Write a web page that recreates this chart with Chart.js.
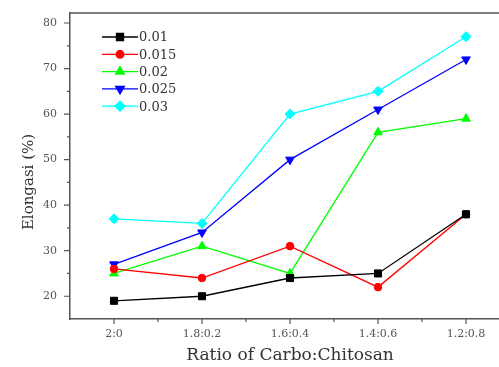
<!DOCTYPE html>
<html>
<head>
<meta charset="utf-8">
<script src="https://cdn.jsdelivr.net/npm/chart.js@4/dist/chart.umd.min.js"></script>
<style>
  html, body { margin: 0; padding: 0; background: #fff; overflow: hidden; }
  #wrap { width: 520px; height: 367px; }
</style>
</head>
<body>
<div id="wrap"><canvas id="elongChart"></canvas></div>
<script>
// data
const ratios = ['2:0', '1.8:0.2', '1.6:0.4', '1.4:0.6', '1.2:0.8'];
const seriesNames = ['0.01', '0.015', '0.02', '0.025', '0.03'];
const conc001 = [19, 20, 24, 25, 38];
const conc0015 = [26, 24, 31, 22, 38];
const conc002 = [25, 31, 25, 56, 59];
const conc0025 = [27, 34, 50, 61, 72];
const conc003 = [37, 36, 60, 65, 77];
const yTickValues = [20, 30, 40, 50, 60, 70, 80];
const yMinorValues = [25, 35, 45, 55, 65, 75];

const serif = "'DejaVu Serif', 'Liberation Serif', serif";

const seriesStyle = [
    { color: '#000000', style: 'rect', radius: 5, rotation: 0 },
    { color: '#ff0000', style: 'circle', radius: 3.8, rotation: 0 },
    { color: '#00ff00', style: 'triangle', radius: 5, rotation: 0 },
    { color: '#0000ff', style: 'triangle', radius: 5, rotation: 180 },
    { color: '#00ffff', style: 'rectRot', radius: 5, rotation: 0 }
];
const seriesData = [conc001, conc0015, conc002, conc0025, conc003];

// ticks, top frame line, y title and legend drawn by hand
const decorPlugin = {
    id: 'decor',
    afterDraw(chart) {
        const ctx = chart.ctx;
        const area = chart.chartArea;
        const xs = chart.scales.x;
        const ys = chart.scales.y;
        ctx.save();
        ctx.strokeStyle = '#555';
        ctx.lineWidth = 1.5;
        // top frame line
        ctx.beginPath();
        ctx.moveTo(area.left, area.top);
        ctx.lineTo(area.right + 20, area.top);
        ctx.stroke();
        // x ticks
        ctx.lineWidth = 1.2;
        ctx.beginPath();
        const half = (xs.getPixelForValue(1) - xs.getPixelForValue(0)) / 2;
        ratios.forEach((r, i) => {
            const px = xs.getPixelForValue(i);
            ctx.moveTo(px, area.bottom);
            ctx.lineTo(px, area.bottom + 5);
            ctx.moveTo(px + half, area.bottom);
            ctx.lineTo(px + half, area.bottom + 3);
        });
        // y ticks
        yTickValues.forEach(v => {
            const py = ys.getPixelForValue(v);
            ctx.moveTo(area.left, py);
            ctx.lineTo(area.left - 6, py);
        });
        yMinorValues.forEach(v => {
            const py = ys.getPixelForValue(v);
            ctx.moveTo(area.left, py);
            ctx.lineTo(area.left - 3, py);
        });
        ctx.stroke();

        // y title
        ctx.fillStyle = '#333';
        ctx.font = '15px ' + serif;
        ctx.textAlign = 'center';
        ctx.textBaseline = 'middle';
        ctx.translate(29, 182);
        ctx.rotate(-Math.PI / 2);
        ctx.fillText('Elongasi (%)', 0, 0);
        ctx.restore();

        // legend
        ctx.save();
        chart.data.datasets.forEach((ds, i) => {
            const y = area.top + 24 + i * 17.3;
            const x0 = area.left + 32;
            ctx.strokeStyle = ds.borderColor;
            ctx.lineWidth = 1.3;
            ctx.beginPath();
            ctx.moveTo(x0, y);
            ctx.lineTo(x0 + 36, y);
            ctx.stroke();
            ctx.fillStyle = ds.pointBackgroundColor;
            Chart.helpers.drawPoint(ctx, {
                pointStyle: ds.pointStyle,
                radius: ds.pointRadius,
                rotation: ds.pointRotation,
                borderWidth: 1
            }, x0 + 18, y);
            ctx.fillStyle = '#333';
            ctx.font = '13px ' + serif;
            ctx.textAlign = 'left';
            ctx.textBaseline = 'middle';
            ctx.fillText(ds.label, x0 + 37, y + 1);
        });
        ctx.restore();
    }
};

const datasets = seriesNames.map((name, i) => ({
    label: name,
    data: seriesData[i],
    borderColor: seriesStyle[i].color,
    backgroundColor: seriesStyle[i].color,
    pointBackgroundColor: seriesStyle[i].color,
    pointBorderColor: seriesStyle[i].color,
    pointStyle: seriesStyle[i].style,
    pointRadius: seriesStyle[i].radius,
    pointRotation: seriesStyle[i].rotation,
    pointBorderWidth: 1,
    borderWidth: 1.3,
    tension: 0,
    clip: false
}));

new Chart(document.getElementById('elongChart'), {
    type: 'line',
    data: { labels: ratios, datasets: datasets },
    options: {
        responsive: true,
        maintainAspectRatio: false,
        animation: false,
        layout: { padding: { top: 13, right: 10, left: 0, bottom: 0 } },
        plugins: {
            legend: { display: false },
            tooltip: { enabled: false }
        },
        scales: {
            x: {
                type: 'category',
                offset: true,
                grid: { display: false, drawTicks: false },
                border: { display: true, color: '#555', width: 1.5 },
                ticks: {
                    color: '#555',
                    font: { family: serif, size: 11 },
                    padding: 9,
                    maxRotation: 0
                },
                title: {
                    display: true,
                    text: 'Ratio of Carbo:Chitosan',
                    color: '#333',
                    font: { family: serif, size: 17 },
                    padding: { top: 0, bottom: 1 }
                },
                afterFit(scale) {
                    scale.height = 48;
                    scale.paddingLeft = 0;
                    scale.paddingRight = 0;
                }
            },
            y: {
                min: 15,
                max: 82.2,
                grid: { display: false, drawTicks: false },
                border: { display: true, color: '#555', width: 1.5 },
                afterBuildTicks(scale) {
                    scale.ticks = yTickValues.map(v => ({ value: v }));
                },
                ticks: {
                    color: '#555',
                    font: { family: serif, size: 11 },
                    padding: 13
                },
                afterFit(scale) {
                    scale.width = 70;
                    scale.paddingTop = 0;
                    scale.paddingBottom = 0;
                }
            }
        }
    },
    plugins: [decorPlugin]
});
</script>
</body>
</html>
